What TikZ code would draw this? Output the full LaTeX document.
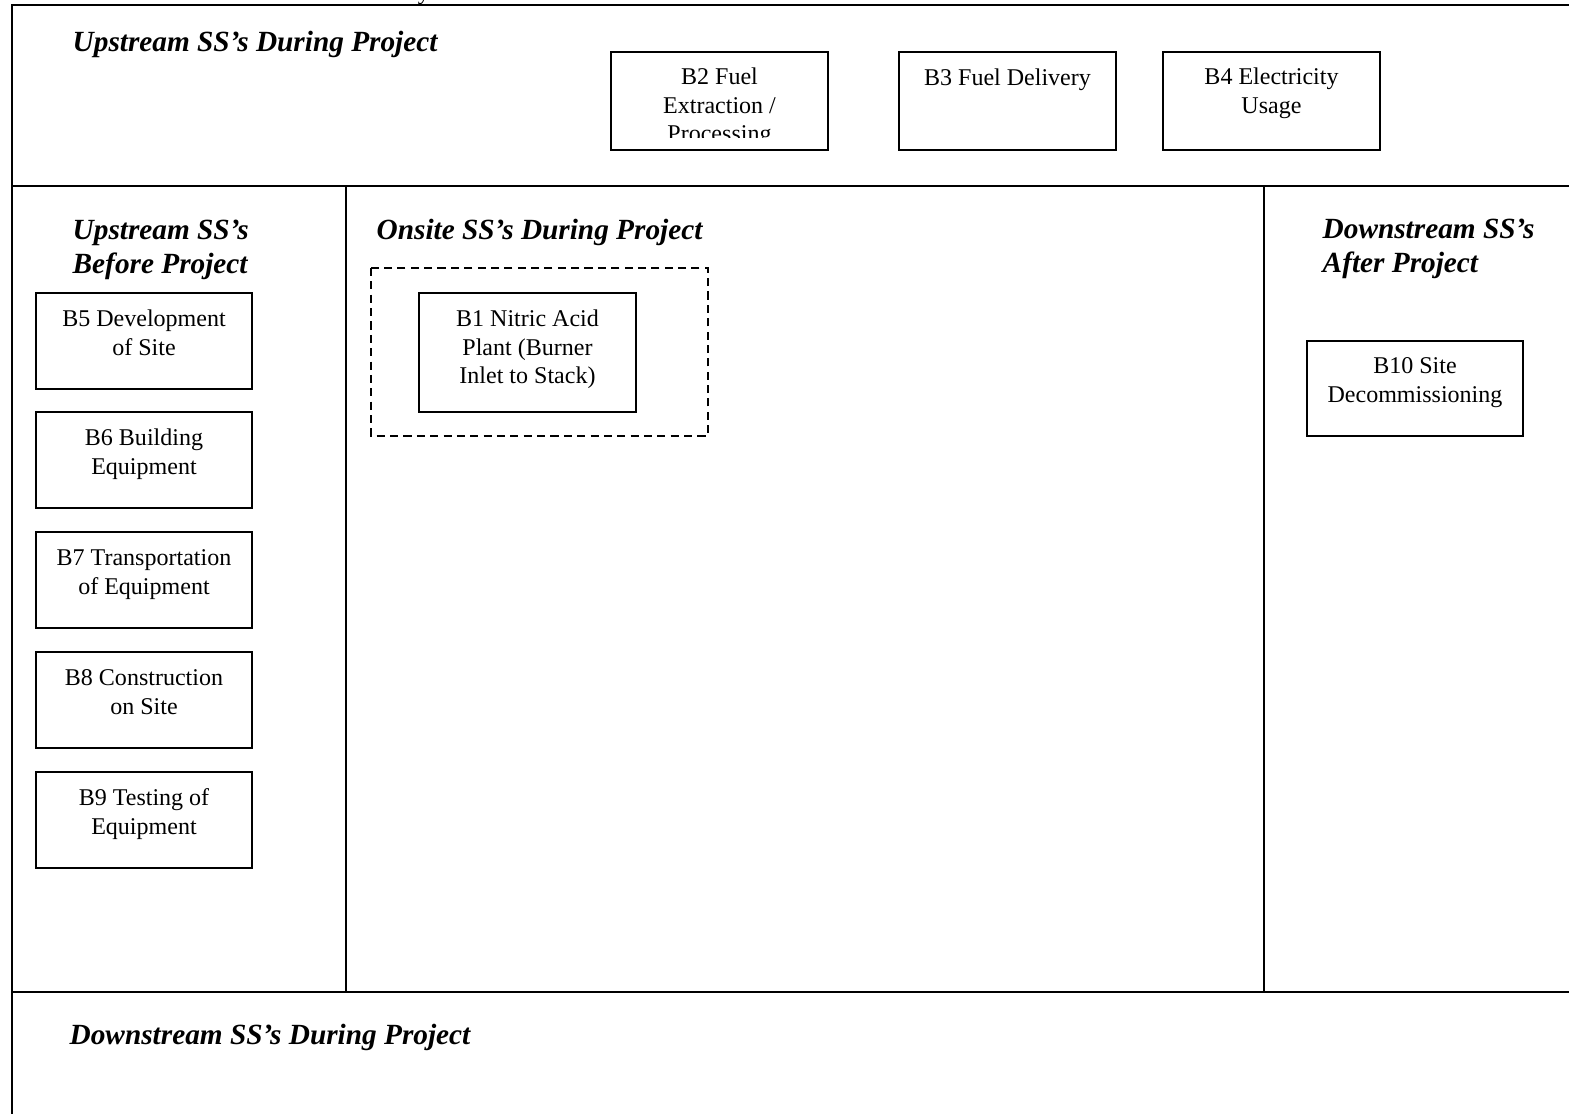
\documentclass[tikz,border=0pt]{standalone}
\usepackage{fontspec}
\setmainfont{Liberation Serif}
\begin{document}
\begin{tikzpicture}[x=0.01cm,y=-0.01cm,
  frame/.style={line width=0.75pt},
  divider/.style={line width=0.5pt},
  sbox/.style={draw, line width=0.7pt, minimum width=2.16cm, minimum height=0.96cm, inner sep=0pt},
  btext/.style={anchor=north, align=center, inner sep=0pt, font=\fontsize{6.83pt}{8.1pt}\selectfont},
  head/.style={inner sep=0pt, font=\fontsize{8.33pt}{9.67pt}\selectfont\bfseries\itshape},
  scopebox/.style={draw, line width=0.6pt, dash pattern=on 2.3pt off 1.5pt}
]
\useasboundingbox (0,0) rectangle (1569,1114);

% frame and dividers
\draw[frame] (1569,5) -- (12,5) -- (12,1114);
\draw[frame] (12,186) -- (1569,186);
\draw[frame] (12,992) -- (1569,992);
\draw[divider] (346,186) -- (346,992);
\draw[divider] (1264,186) -- (1264,992);

% cut-off text at the very top
\node[btext, anchor=base] (cut) at (424,-1) {y};

% headings
\node[head, anchor=base west] (h1) at (72,51) {Upstream SS’s During Project};
\node[head, anchor=north west, align=left] (h2) at (72,215) {\strut Upstream SS’s\\\strut Before Project};
\node[head, anchor=base west] (h3) at (376,239) {Onsite SS’s During Project};
\node[head, anchor=north west, align=left] (h4) at (1322,214) {\strut Downstream SS’s\\\strut After Project};
\node[head, anchor=base west] (h5) at (69,1044) {Downstream SS’s During Project};

% upstream during project boxes
\node[sbox, minimum width=2.17cm, minimum height=0.98cm] (b2) at (719.5,101) {};
\begin{scope}
  \clip (611,52) rectangle (828,137);
  \node[btext] (b2t) at ([yshift=-0.135cm]b2.north) {\strut B2 Fuel\\\strut Extraction /\\\strut Processing};
\end{scope}
\node[sbox, minimum width=2.17cm, minimum height=0.98cm] (b3) at (1007.5,101) {};
\node[btext] (b3t) at ([yshift=-0.14cm]b3.north) {\strut B3 Fuel Delivery};
\node[sbox, minimum width=2.17cm, minimum height=0.98cm] (b4) at (1271.5,101) {};
\node[btext] (b4t) at ([yshift=-0.135cm]b4.north) {\strut B4 Electricity\\\strut Usage};

% upstream before project boxes
\node[sbox] (b5) at (144,341) {};
\node[btext] (b5t) at ([yshift=-0.145cm]b5.north) {\strut B5 Development\\\strut of Site};
\node[sbox] (b6) at (144,460) {};
\node[btext] (b6t) at ([yshift=-0.145cm]b6.north) {\strut B6 Building\\\strut Equipment};
\node[sbox] (b7) at (144,580) {};
\node[btext] (b7t) at ([yshift=-0.145cm]b7.north) {\strut B7 Transportation\\\strut of Equipment};
\node[sbox] (b8) at (144,700) {};
\node[btext] (b8t) at ([yshift=-0.145cm]b8.north) {\strut B8 Construction\\\strut on Site};
\node[sbox] (b9) at (144,820) {};
\node[btext] (b9t) at ([yshift=-0.145cm]b9.north) {\strut B9 Testing of\\\strut Equipment};

% onsite
\draw[scopebox] (371,268) rectangle (708,436);
\node[sbox, minimum width=2.17cm, minimum height=1.19cm] (b1) at (527.5,352.5) {};
\node[btext] (b1t) at ([yshift=-0.145cm]b1.north) {\strut B1 Nitric Acid\\\strut Plant (Burner\\\strut Inlet to Stack)};

% downstream after project
\node[sbox, minimum height=0.95cm] (b10) at (1415,388.5) {};
\node[btext] (b10t) at ([yshift=-0.135cm]b10.north) {\strut B10 Site\\\strut Decommissioning};
\end{tikzpicture}
\end{document}
